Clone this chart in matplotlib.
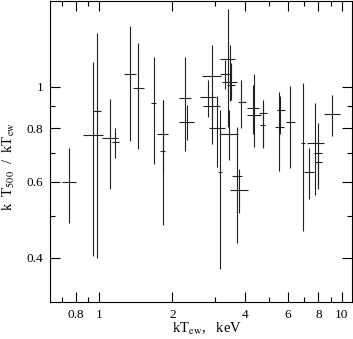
import matplotlib
matplotlib.use('Agg')
import matplotlib.pyplot as plt
import numpy as np
from matplotlib.ticker import FixedLocator, NullFormatter

plt.rcParams['font.family'] = ['Liberation Serif', 'DejaVu Serif']
plt.rcParams['mathtext.fontset'] = 'stix'

# emission-weighted temperature (keV) with lower/upper bounds
kt = [0.747, 0.941, 0.977, 1.106, 1.164, 1.337, 1.448, 1.680, 1.824, 1.824,
      2.263, 2.285, 2.912, 2.804, 3.055, 3.143, 2.904, 3.391, 3.308, 3.462,
      3.478, 3.429, 3.693, 3.771, 3.851, 4.307, 4.349, 4.738, 4.706, 5.504,
      5.578, 6.133, 6.912, 7.317, 7.776, 8.000, 7.986, 9.104]
kt_lo = [0.701, 0.853, 0.941, 1.025, 1.127, 1.263, 1.372, 1.627, 1.728, 1.773,
         2.123, 2.129, 2.659, 2.592, 2.831, 3.084, 2.675, 3.155, 3.149, 3.209,
         3.358, 3.155, 3.512, 3.462, 3.725, 4.069, 4.050, 4.560, 4.581, 5.284,
         5.401, 5.865, 6.763, 6.979, 7.207, 7.689, 7.776, 8.437]
kt_hi = [0.801, 1.032, 1.019, 1.187, 1.205, 1.411, 1.527, 1.718, 1.918, 1.859,
         2.395, 2.448, 3.185, 3.017, 3.286, 3.203, 3.155, 3.638, 3.502, 3.700,
         3.624, 3.728, 3.880, 4.108, 4.011, 4.560, 4.626, 4.930, 4.837, 5.771,
         5.810, 6.389, 7.072, 7.650, 8.437, 8.310, 8.278, 9.793]

# ratio T500 / Tew with lower/upper bounds
ratio = [0.600, 0.773, 0.878, 0.759, 0.743, 1.070, 0.993, 0.918, 0.777, 0.707,
         0.941, 0.830, 1.058, 0.946, 0.803, 0.632, 0.901, 1.162, 1.072, 1.025,
         1.012, 0.777, 0.620, 0.576, 0.921, 0.894, 0.861, 0.871, 0.816, 0.805,
         0.884, 0.827, 0.741, 0.634, 0.738, 0.701, 0.668, 0.865]
ratio_lo = [0.482, 0.403, 0.398, 0.578, 0.684, 0.747, 0.717, 0.662, 0.629, 0.476,
            0.707, 0.753, 0.737, 0.850, 0.650, 0.377, 0.835, 0.805, 0.989, 0.929,
            0.934, 0.674, 0.433, 0.508, 0.802, 0.777, 0.724, 0.720, 0.724, 0.636,
            0.777, 0.648, 0.461, 0.549, 0.559, 0.579, 0.589, 0.770]
ratio_hi = [0.721, 1.145, 1.335, 0.938, 0.803, 1.389, 1.266, 1.176, 0.934, 0.934,
            1.176, 0.908, 1.254, 1.040, 0.954, 0.884, 0.976, 1.518, 1.155, 1.254,
            1.139, 0.881, 0.805, 0.645, 1.038, 1.012, 1.072, 0.933, 0.908, 0.975,
            0.954, 1.007, 1.022, 0.720, 0.916, 0.823, 0.750, 0.958]

kt = np.array(kt)
ratio = np.array(ratio)
xerr = [kt - np.array(kt_lo), np.array(kt_hi) - kt]
yerr = [ratio - np.array(ratio_lo), np.array(ratio_hi) - ratio]

fig = plt.figure(figsize=(3.53, 3.39), dpi=100)
ax = fig.add_axes([50 / 353, 1 - 302 / 339, 302 / 353, 301.5 / 339])

ax.errorbar(kt, ratio, xerr=xerr, yerr=yerr, fmt='none', ecolor='#222222',
            elinewidth=0.8, capsize=0)

ax.set_xscale('log')
ax.set_yscale('log')
ax.set_xlim(0.625, 11.0)
ax.set_ylim(0.315, 1.59)

ax.xaxis.set_major_locator(FixedLocator([0.8, 1, 2, 4, 6, 8, 10]))
ax.set_xticklabels(['0.8', '1', '2', '4', '6', '8', '10'])
ax.xaxis.set_minor_locator(FixedLocator([0.7, 0.9, 3, 5, 7, 9]))
ax.xaxis.set_minor_formatter(NullFormatter())
ax.yaxis.set_major_locator(FixedLocator([0.4, 0.6, 0.8, 1]))
ax.set_yticklabels(['0.4', '0.6', '0.8', '1'])
ax.yaxis.set_minor_locator(FixedLocator([0.5, 0.7, 0.9]))
ax.yaxis.set_minor_formatter(NullFormatter())

ax.tick_params(which='both', direction='in', top=True, right=True,
               labelsize=9.5, width=0.8, pad=5)
ax.tick_params(which='major', length=7)
ax.tick_params(which='minor', length=3.5)
for s in ax.spines.values():
    s.set_linewidth(0.8)

ax.set_xlabel(r'kT$_{\rm ew}$,   keV', fontsize=10.5)
ax.set_ylabel(r'k  T$_{500}$  /  kT$_{\rm ew}$', fontsize=10.5)
ax.xaxis.set_label_coords(0.52, -0.062)
ax.yaxis.set_label_coords(-0.11, 0.45)

fig.savefig('out.png', dpi=100)
